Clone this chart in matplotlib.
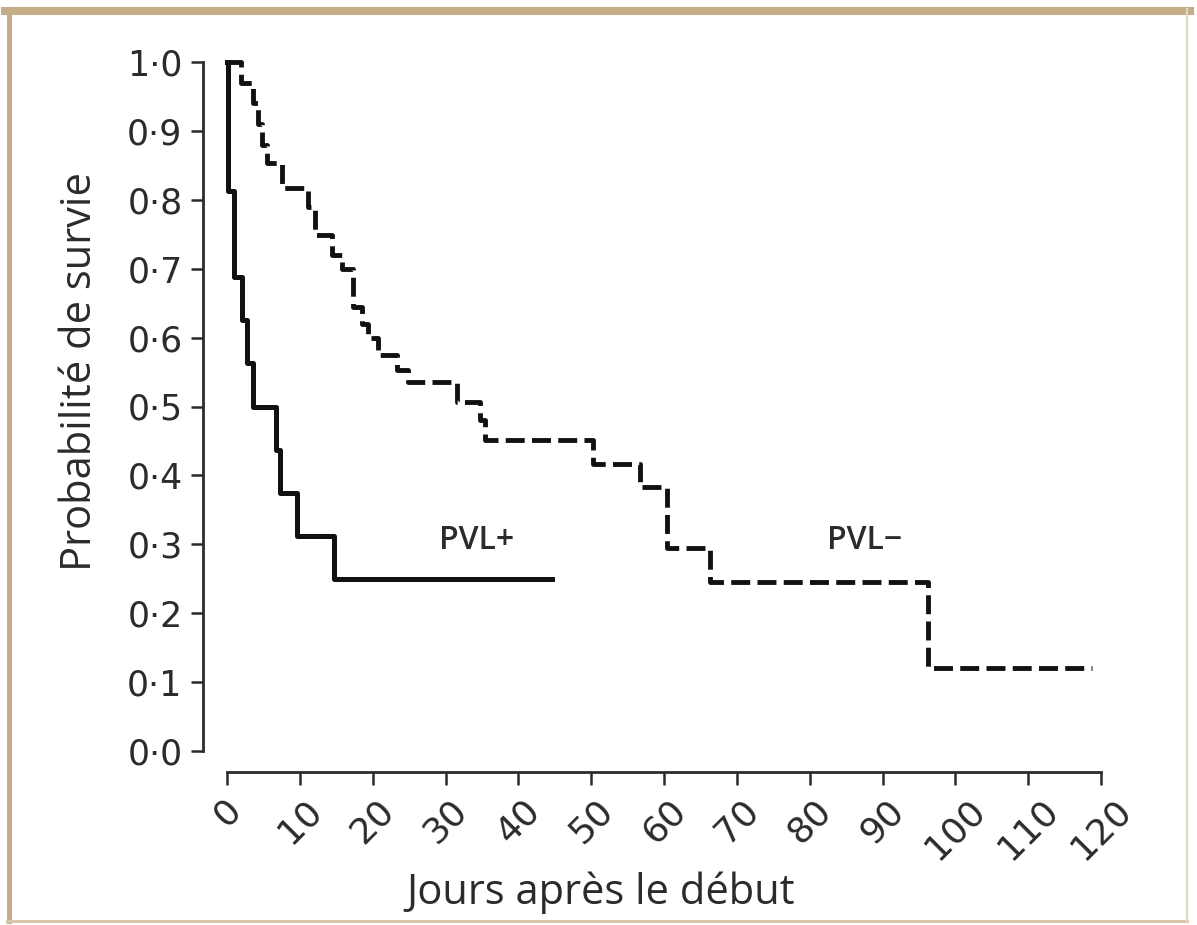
import matplotlib
matplotlib.use("Agg")
import matplotlib.pyplot as plt
from matplotlib.lines import Line2D

# Kaplan-Meier steps: (event day, survival after event)
pvl_pos_days = [0.2, 0.9, 2.0, 2.7, 3.6, 6.7, 7.3, 9.6, 14.7]
pvl_pos_surv = [0.8125, 0.6875, 0.625, 0.5625, 0.5, 0.4375, 0.375, 0.3125, 0.25]
pvl_pos_end = 44.6

pvl_neg_days = [1.9, 3.6, 4.2, 4.8, 5.5, 7.6, 11.1, 12.1, 14.4, 15.8, 17.3, 18.5,
                19.4, 20.7, 23.4, 24.9, 31.6, 34.8, 35.4, 50.3, 56.7, 60.4, 66.3, 96.2]
pvl_neg_surv = [0.97, 0.94, 0.91, 0.88, 0.853, 0.817, 0.79, 0.749, 0.72, 0.70, 0.645, 0.62,
                0.60, 0.575, 0.553, 0.536, 0.507, 0.48, 0.451, 0.416, 0.383, 0.295, 0.245, 0.12]
pvl_neg_end = 118.8

x_ticks = list(range(0, 121, 10))
y_ticks = [i / 10 for i in range(11)]
y_tick_labels = ["0·0", "0·1", "0·2", "0·3", "0·4", "0·5", "0·6", "0·7", "0·8", "0·9", "1·0"]

ink = "#2b2b2b"
fig = plt.figure(figsize=(11.97, 9.25), dpi=100)
ax = fig.add_axes([227 / 1197, 1 - 751 / 925, 874 / 1197, 689 / 925])


def km_xy(days, surv, end):
    xs = [0] + days + [end]
    ys = [1.0] + surv + [surv[-1]]
    return xs, ys


x, y = km_xy(pvl_neg_days, pvl_neg_surv, pvl_neg_end)
ax.step(x, y, where="post", color="#111111", lw=3.5, linestyle=(0, (3.9, 1.5)),
        clip_on=False, zorder=3)
x, y = km_xy(pvl_pos_days, pvl_pos_surv, pvl_pos_end)
ax.step(x, y, where="post", color="#111111", lw=3.6, clip_on=False, zorder=4)

ax.text(34.2, 0.305, "PVL+", fontsize=23, color=ink, ha="center", va="center",
        family="Open Sans", weight="semibold")
ax.text(87.6, 0.305, "PVL\u2212", fontsize=23, color=ink, ha="center", va="center",
        family="Open Sans", weight="semibold")

ax.set_xlim(0, 120)
ax.set_ylim(0, 1)
for side in ["top", "right"]:
    ax.spines[side].set_visible(False)
ax.spines["left"].set_position(("outward", 17))
ax.spines["bottom"].set_position(("outward", 15))
ax.spines["left"].set_bounds(0, 1)
ax.spines["bottom"].set_bounds(0, 120)
for side in ["left", "bottom"]:
    ax.spines[side].set_linewidth(2.0)
    ax.spines[side].set_color(ink)

ax.set_xticks(x_ticks)
ax.set_xticklabels([str(t) for t in x_ticks], rotation=45, ha="center", va="top")
ax.set_yticks(y_ticks)
ax.set_yticklabels(y_tick_labels)
ax.tick_params(axis="both", direction="out", length=9, width=1.8, color=ink,
               labelcolor=ink)
ax.tick_params(axis="x", pad=6, labelsize=26)
ax.tick_params(axis="y", pad=6, labelsize=25)

ax.set_ylabel("Probabilité de survie", fontsize=30, color=ink, family="Open Sans")
ax.yaxis.label.set_va("center")
ax.yaxis.set_label_coords(-0.168, 0.55)
ax.set_xlabel("Jours après le début", fontsize=30, color=ink, family="Open Sans")
ax.xaxis.label.set_va("center")
ax.xaxis.set_label_coords(0.428, -0.206)

# tan frame around the picture
frame = "#c4ae8a"
fig.add_artist(Line2D([0.004, 0.994], [0.9881, 0.9881], transform=fig.transFigure, color=frame, lw=5.8))
fig.add_artist(Line2D([0.0079, 0.0079], [0.004, 0.99], transform=fig.transFigure, color=frame, lw=3.6))
fig.add_artist(Line2D([0.006, 0.992], [0.0043, 0.0043], transform=fig.transFigure, color="#d6c7ab", lw=2.2))
fig.add_artist(Line2D([0.9916, 0.9916], [0.004, 0.99], transform=fig.transFigure, color="#e2d8c6", lw=1.5))

fig.savefig("out.png", dpi=100)
